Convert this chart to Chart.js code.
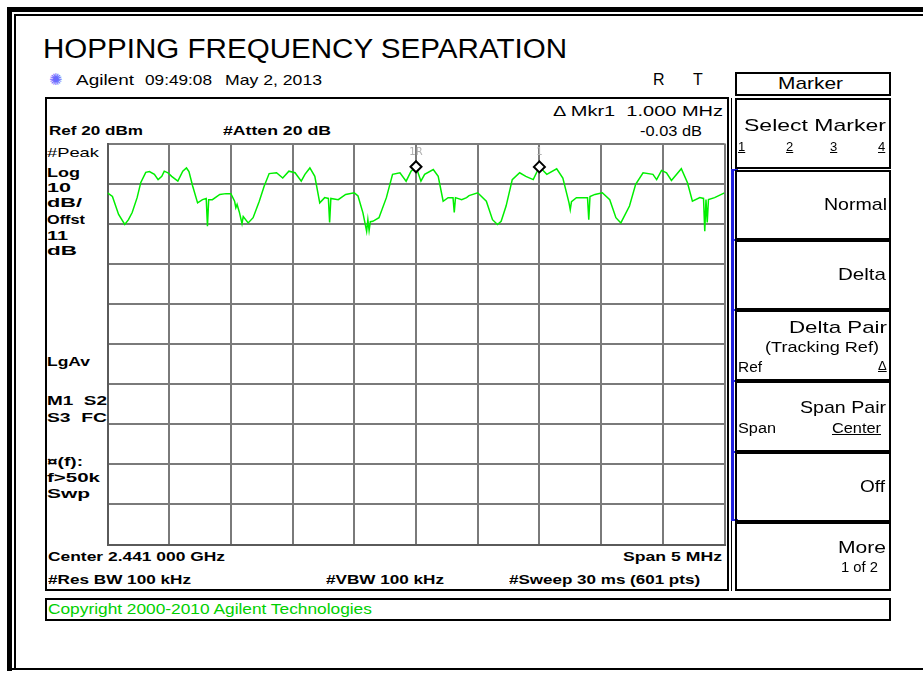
<!DOCTYPE html>
<html>
<head>
<meta charset="utf-8">
<script src="https://cdn.jsdelivr.net/npm/chart.js@4/dist/chart.umd.min.js"></script>
<style>
  body { margin: 0; background: #fff; font-family: "Liberation Sans", Arial, sans-serif; }
  #screen { position: relative; width: 923px; height: 673px; overflow: hidden; background: #fff; }
  .abs { position: absolute; white-space: nowrap; color: #000; }
  .blk { position: absolute; background: #000; }
  .blue { position: absolute; background: #2020e0; }
  .box { position: absolute; border: 2px solid #000; box-sizing: border-box; }
  .lbl { position: absolute; white-space: nowrap; font-size: 12px; font-weight: bold; line-height: 14px; color: #000; }
  .sk { position: absolute; white-space: nowrap; font-size: 17px; line-height: 19px; color: #000; }
  .sm { position: absolute; white-space: nowrap; font-size: 14px; line-height: 16px; color: #000; }
  [data-x1] { transform-origin: 0 0; }
  u { text-decoration: underline; }
  #plot { position: absolute; left: 100px; top: 136px; }
</style>
</head>
<body>
<div id="screen">
  <!-- outer frame -->
  <div class="blk" style="left:7px;top:7px;width:916px;height:5px"></div>
  <div class="blk" style="left:7px;top:7px;width:5px;height:664px"></div>
  <div class="blk" style="left:14px;top:14px;width:909px;height:2px"></div>
  <div class="blk" style="left:14px;top:14px;width:2px;height:655px"></div>
  <div class="blk" style="left:7px;top:668px;width:916px;height:2px"></div>

  <div class="abs" data-x1="43" data-x2="567" style="top:34px;font-size:27px;line-height:30px">HOPPING FREQUENCY SEPARATION</div>

  <!-- header row -->
  <div class="abs" style="left:49px;top:71px;font-size:16px;line-height:18px;color:#6a6aff;font-family:'DejaVu Sans'">✺</div>
  <div class="abs" data-x1="76" data-x2="134" style="top:71px;font-size:15px;line-height:18px">Agilent</div>
  <div class="abs" data-x1="145" data-x2="212" style="top:71px;font-size:15px;line-height:18px">09:49:08</div>
  <div class="abs" data-x1="225" data-x2="322" style="top:71px;font-size:15px;line-height:18px">May 2, 2013</div>
  <div class="abs" style="left:653px;top:71px;font-size:16px;line-height:18px">R</div>
  <div class="abs" style="left:693px;top:71px;font-size:16px;line-height:18px">T</div>

  <!-- main display box -->
  <div class="box" style="left:45px;top:97px;width:684px;height:494px"></div>
  <div class="sm" data-x1="553" data-x2="723" style="top:103px">Δ Mkr1&nbsp; 1.000 MHz</div>
  <div class="lbl" data-x1="49" data-x2="143" style="top:124px">Ref 20 dBm</div>
  <div class="lbl" data-x1="223" data-x2="331" style="top:124px">#Atten 20 dB</div>
  <div class="sm" data-x1="640" data-x2="702" style="top:123px">-0.03 dB</div>

  <div class="lbl" data-x1="47" data-x2="99" style="top:146px;font-weight:normal;font-size:13px">#Peak</div>
  <div class="lbl" data-x1="47" data-x2="80" style="top:166px">Log</div>
  <div class="lbl" data-x1="47" data-x2="71" style="top:181px">10</div>
  <div class="lbl" data-x1="47" data-x2="82" style="top:196px">dB/</div>
  <div class="lbl" data-x1="47" data-x2="85" style="top:213px">Offst</div>
  <div class="lbl" data-x1="47" data-x2="68" style="top:229px">11</div>
  <div class="lbl" data-x1="47" data-x2="77" style="top:244px">dB</div>
  <div class="lbl" data-x1="47" data-x2="90" style="top:355px">LgAv</div>
  <div class="lbl" data-x1="47" data-x2="107" style="top:394px">M1&nbsp; S2</div>
  <div class="lbl" data-x1="47" data-x2="107" style="top:411px">S3&nbsp; FC</div>
  <div class="lbl" data-x1="47" data-x2="83" style="top:455px">¤(f):</div>
  <div class="lbl" data-x1="47" data-x2="100" style="top:471px">f&gt;50k</div>
  <div class="lbl" data-x1="47" data-x2="90" style="top:487px">Swp</div>

  <div class="lbl" data-x1="48" data-x2="225" style="top:550px">Center 2.441 000 GHz</div>
  <div class="lbl" data-x1="623" data-x2="722" style="top:550px">Span 5 MHz</div>
  <div class="lbl" data-x1="48" data-x2="191" style="top:573px">#Res BW 100 kHz</div>
  <div class="lbl" data-x1="326" data-x2="444" style="top:573px">#VBW 100 kHz</div>
  <div class="lbl" data-x1="509" data-x2="700" style="top:573px">#Sweep 30 ms (601 pts)</div>

  <canvas id="plot" width="632" height="416"></canvas>

  <!-- copyright line -->
  <div class="box" style="left:45px;top:598px;width:846px;height:23px"></div>
  <div class="sm" data-x1="48" data-x2="372" style="top:601px;color:#00d000">Copyright 2000-2010 Agilent Technologies</div>

  <!-- softkey panel -->
  <div class="box" style="left:735px;top:72px;width:156px;height:24px"></div>
  <div class="sk" data-x1="778" data-x2="843" style="top:74px">Marker</div>

  <div class="blk" style="left:731px;top:98px;width:1px;height:493px"></div>
  <div class="blue" style="left:731px;top:169px;width:3px;height:352px"></div>
  <div class="blue" style="left:731px;top:169px;width:7px;height:2px"></div>
  <div class="blue" style="left:731px;top:239px;width:7px;height:2px"></div>
  <div class="blue" style="left:731px;top:309px;width:7px;height:2px"></div>
  <div class="blue" style="left:731px;top:380px;width:7px;height:2px"></div>
  <div class="blue" style="left:731px;top:451px;width:7px;height:2px"></div>
  <div class="blue" style="left:731px;top:519px;width:7px;height:2px"></div>

  <div class="box" style="left:735px;top:98px;width:156px;height:71px"></div>
  <div class="sk" data-x1="744" data-x2="886" style="top:116px">Select Marker</div>
  <div class="abs" style="left:738px;top:140px;font-size:13px;line-height:14px"><u>1</u></div>
  <div class="abs" style="left:786px;top:140px;font-size:13px;line-height:14px"><u>2</u></div>
  <div class="abs" style="left:830px;top:140px;font-size:13px;line-height:14px"><u>3</u></div>
  <div class="abs" style="left:878px;top:140px;font-size:13px;line-height:14px"><u>4</u></div>

  <div class="box" style="left:735px;top:170px;width:156px;height:70px"></div>
  <div class="sk" data-x1="824" data-x2="887" style="top:195px">Normal</div>

  <div class="box" style="left:735px;top:240px;width:156px;height:70px"></div>
  <div class="sk" data-x1="838" data-x2="886" style="top:265px">Delta</div>

  <div class="box" style="left:735px;top:310px;width:156px;height:71px"></div>
  <div class="sk" data-x1="789" data-x2="887" style="top:318px">Delta Pair</div>
  <div class="sm" data-x1="765" data-x2="879" style="top:339px">(Tracking Ref)</div>
  <div class="sm" data-x1="738" data-x2="762" style="top:359px">Ref</div>
  <div class="abs" style="left:878px;top:358px;font-size:13px;line-height:16px"><u>Δ</u></div>

  <div class="box" style="left:735px;top:381px;width:156px;height:71px"></div>
  <div class="sk" data-x1="800" data-x2="886" style="top:398px">Span Pair</div>
  <div class="sm" data-x1="738" data-x2="776" style="top:420px">Span</div>
  <div class="sm" data-x1="832" data-x2="881" style="top:420px"><u>Center</u></div>

  <div class="box" style="left:735px;top:452px;width:156px;height:70px"></div>
  <div class="sk" data-x1="860" data-x2="885" style="top:477px">Off</div>

  <div class="box" style="left:735px;top:522px;width:156px;height:69px"></div>
  <div class="sk" data-x1="838" data-x2="886" style="top:538px">More</div>
  <div class="sm" data-x1="841" data-x2="878" style="top:559px">1 of 2</div>
</div>

<script>
// sweep: 2.441 GHz centre, 5 MHz span
const traceFreqMHz = [
  2438.50, 2438.54, 2438.59, 2438.64, 2438.67, 2438.70, 2438.74, 2438.77, 2438.81, 2438.84,
  2438.88, 2438.91, 2438.94, 2438.96, 2438.99, 2439.02, 2439.07, 2439.11, 2439.14, 2439.16,
  2439.19, 2439.23, 2439.27, 2439.30, 2439.31, 2439.32, 2439.35, 2439.41, 2439.46, 2439.50,
  2439.53, 2439.54, 2439.55, 2439.57, 2439.59, 2439.60, 2439.64, 2439.68, 2439.73, 2439.77,
  2439.81, 2439.87, 2439.92, 2439.97, 2440.02, 2440.07, 2440.10, 2440.14, 2440.18, 2440.22,
  2440.26, 2440.29, 2440.30, 2440.31, 2440.37, 2440.43, 2440.50, 2440.53, 2440.57, 2440.60,
  2440.61, 2440.62, 2440.63, 2440.65, 2440.70, 2440.76, 2440.81, 2440.87, 2440.92, 2440.96,
  2441.00, 2441.04, 2441.07, 2441.14, 2441.18, 2441.22, 2441.26, 2441.30, 2441.31, 2441.32,
  2441.37, 2441.41, 2441.43, 2441.50, 2441.57, 2441.62, 2441.66, 2441.69, 2441.73, 2441.78,
  2441.84, 2441.89, 2441.95, 2442.00, 2442.06, 2442.14, 2442.19, 2442.24, 2442.25, 2442.26,
  2442.30, 2442.39, 2442.40, 2442.41, 2442.45, 2442.51, 2442.57, 2442.62, 2442.66, 2442.73,
  2442.78, 2442.84, 2442.92, 2442.95, 2442.99, 2443.03, 2443.07, 2443.15, 2443.20, 2443.24,
  2443.30, 2443.33, 2443.34, 2443.35, 2443.36, 2443.37, 2443.42, 2443.50
];
const traceLevelDbm = [
  7.7, 6.8, 2.3, -0.2, 1.0, 2.8, 6.5, 10.3, 12.8, 13.0,
  12.3, 11.0, 11.8, 13.1, 12.7, 11.8, 10.6, 13.1, 13.9, 13.0,
  9.4, 5.2, 6.0, 6.3, -0.6, 6.0, 6.0, 7.3, 7.5, 7.5,
  5.6, 4.0, 4.8, 2.7, 0.0, 1.8, 0.2, 1.5, 5.6, 9.4,
  12.5, 12.7, 11.4, 13.1, 12.7, 10.6, 12.3, 13.9, 11.8, 5.2,
  6.5, 6.3, 0.3, 6.3, 6.0, 7.3, 7.7, 6.9, 2.7, -1.9,
  1.0, -1.7, 0.5, 0.6, 1.5, 6.5, 12.3, 12.7, 10.6, 13.1,
  14.2, 10.6, 12.3, 13.5, 11.8, 5.6, 6.5, 6.5, 2.8, 6.5,
  6.0, 6.5, 7.0, 7.7, 5.6, 1.0, -0.2, 0.6, 4.4, 11.0,
  12.7, 11.8, 11.0, 14.2, 12.3, 13.7, 11.4, 5.2, 3.5, 5.5,
  6.5, 6.5, 1.0, 6.8, 7.3, 7.7, 6.0, 1.5, 0.2, 4.4,
  9.8, 12.7, 12.3, 11.0, 13.3, 12.7, 10.8, 13.7, 10.2, 5.6,
  6.5, 6.3, -1.9, 6.0, 0.3, 6.0, 6.5, 7.7
];

// markers: 1R at centre, 1 at +1.000 MHz (delta -0.03 dB)
const markerNames = ['1R', '1'];
const markerFreqMHz = [2441.0, 2442.0];
const markerLevelDbm = [14.2, 14.17];

const refLevel = 20;
const dbPerDiv = 10;
const startMHz = 2438.5;
const stopMHz = 2443.5;

// stretch the screen texts to the wide instrument font
document.querySelectorAll('[data-x1]').forEach(el => {
    const x1 = +el.dataset.x1;
    const x2 = +el.dataset.x2;
    el.style.left = x1 + 'px';
    const w = el.getBoundingClientRect().width;
    el.style.transform = 'scaleX(' + ((x2 - x1) / w).toFixed(3) + ')';
});

const markerLabels = {
    id: 'markerLabels',
    afterDatasetsDraw(chart) {
        const ctx = chart.ctx;
        const xs = chart.scales.x;
        const ys = chart.scales.y;
        ctx.save();
        ctx.fillStyle = '#b0b0b0';
        ctx.font = '10px "DejaVu Sans"';
        ctx.textAlign = 'center';
        ctx.textBaseline = 'bottom';
        markerNames.forEach((name, i) => {
            const px = xs.getPixelForValue(markerFreqMHz[i]);
            const py = ys.getPixelForValue(markerLevelDbm[i]);
            ctx.fillText(name, px, py - 9);
        });
        ctx.restore();
    }
};

new Chart(document.getElementById('plot'), {
    type: 'line',
    data: {
        datasets: [
            {
                label: 'Trace',
                data: traceFreqMHz.map((f, i) => ({ x: f, y: traceLevelDbm[i] })),
                borderColor: '#00ee00',
                borderWidth: 1.5,
                pointRadius: 0,
                tension: 0,
                order: 2
            },
            {
                label: 'Markers',
                data: markerFreqMHz.map((f, i) => ({ x: f, y: markerLevelDbm[i] })),
                showLine: false,
                pointStyle: 'rectRot',
                pointRadius: 5.5,
                borderColor: '#000',
                borderWidth: 2,
                backgroundColor: '#fff',
                order: 1
            }
        ]
    },
    options: {
        responsive: false,
        animation: false,
        layout: { padding: 2 },
        plugins: {
            legend: { display: false },
            tooltip: { enabled: false }
        },
        scales: {
            x: {
                type: 'linear',
                min: startMHz,
                max: stopMHz,
                ticks: { display: false, stepSize: 0.5 },
                grid: { color: '#7a7a7a', lineWidth: 2, drawTicks: false },
                border: { color: '#5a5a5a', width: 2 },
                afterFit(s) { s.height = 0; }
            },
            y: {
                type: 'linear',
                min: refLevel - 10 * dbPerDiv,
                max: refLevel,
                ticks: { display: false, stepSize: dbPerDiv },
                grid: { color: '#7a7a7a', lineWidth: 2, drawTicks: false },
                border: { color: '#5a5a5a', width: 2 },
                afterFit(s) { s.width = 0; }
            }
        }
    },
    plugins: [markerLabels]
});
</script>
</body>
</html>
